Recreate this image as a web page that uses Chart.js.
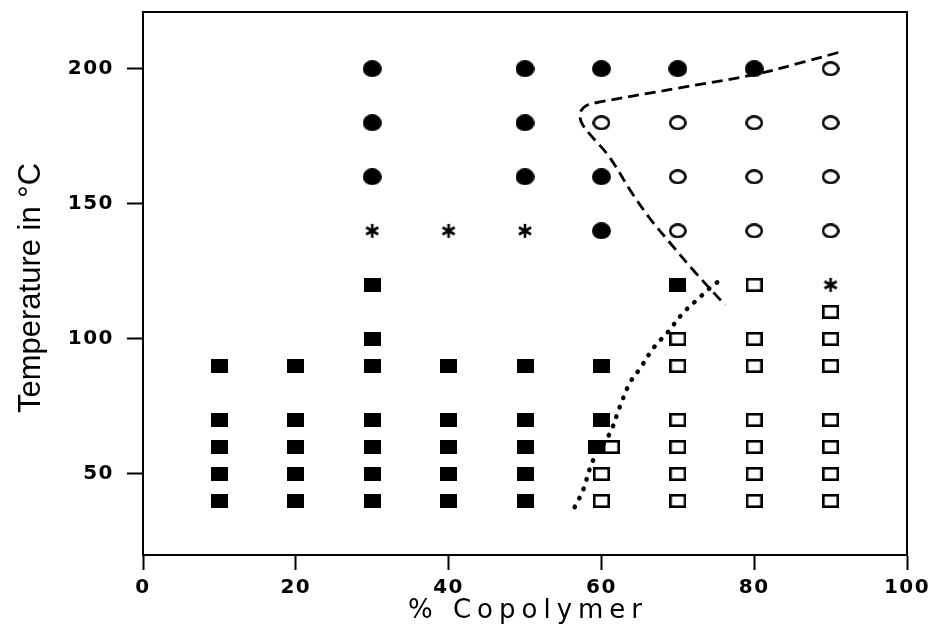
<!DOCTYPE html>
<html>
<head>
<meta charset="utf-8">
<script src="https://cdn.jsdelivr.net/npm/chart.js@4/dist/chart.umd.min.js"></script>
<style>
  html, body { margin: 0; padding: 0; background: #fff; }
  canvas { display: block; }
</style>
</head>
<body>
<canvas id="phaseChart" width="934" height="633"></canvas>
<script>
// axis ticks
const xTicks = [0, 20, 40, 60, 80, 100];
const yTicks = [50, 100, 150, 200];

// [% copolymer, temperature] for each kind of observation
const filledSquares = [
    [10, 40], [20, 40], [30, 40], [40, 40], [50, 40],
    [10, 50], [20, 50], [30, 50], [40, 50], [50, 50],
    [10, 60], [20, 60], [30, 60], [40, 60], [50, 60], [59.3, 60],
    [10, 70], [20, 70], [30, 70], [40, 70], [50, 70], [60, 70],
    [10, 90], [20, 90], [30, 90], [40, 90], [50, 90], [60, 90],
    [30, 100], [30, 120], [70, 120]
];
const openSquares = [
    [60, 40], [70, 40], [80, 40], [90, 40],
    [60, 50], [70, 50], [80, 50], [90, 50],
    [61.3, 60], [70, 60], [80, 60], [90, 60],
    [70, 70], [80, 70], [90, 70],
    [70, 90], [80, 90], [90, 90],
    [70, 100], [80, 100], [90, 100],
    [90, 110], [80, 120]
];
const filledCircles = [
    [30, 200], [50, 200], [60, 200], [70, 200], [80, 200],
    [30, 180], [50, 180],
    [30, 160], [50, 160], [60, 160],
    [60, 140]
];
const openCircles = [
    [90, 200],
    [60, 180], [70, 180], [80, 180], [90, 180],
    [70, 160], [80, 160], [90, 160],
    [70, 140], [80, 140], [90, 140]
];
const asterisks = [[30, 140], [40, 140], [50, 140], [90, 120]];

// boundary curves
const dashedBoundary = [
    [91, 206], [86.5, 202.5], [80, 197.8], [70, 192.8], [60, 187.8], [58, 186.3],
    [57.2, 183.5], [57.6, 179], [61, 167.5], [64, 154], [66.5, 144],
    [69, 135.5], [72, 125.5], [76.2, 112.5]
];
const dottedBoundary = [
    [56.5, 37.7], [57.6, 44], [58.9, 55], [61.1, 65], [62.4, 74.8],
    [63.7, 83.6], [65.1, 89.2], [66.8, 96.6], [68.6, 102.2], [70.7, 109.6],
    [72.5, 114.4], [74.2, 118.8], [75.9, 122.5]
];

const toPoints = arr => arr.map(p => ({ x: p[0], y: p[1] }));

// small canvases used as point glyphs
function makeMarker(w, h, draw) {
    const c = document.createElement('canvas');
    c.width = w;
    c.height = h;
    const g = c.getContext('2d');
    g.fillStyle = '#000';
    g.strokeStyle = '#000';
    draw(g, w, h);
    return c;
}

const solidSquare = makeMarker(17, 14, (g, w, h) => g.fillRect(0, 0, w, h));
const hollowSquare = makeMarker(17, 14, (g, w, h) => {
    g.lineWidth = 2.6;
    g.strokeRect(1.3, 1.3, w - 2.6, h - 2.6);
});
const solidCircle = makeMarker(19, 17, (g, w, h) => {
    g.beginPath();
    g.ellipse(w / 2, h / 2, w / 2, h / 2, 0, 0, Math.PI * 2);
    g.fill();
});
const hollowCircle = makeMarker(18, 15, (g, w, h) => {
    g.lineWidth = 2.6;
    g.beginPath();
    g.ellipse(w / 2, h / 2, w / 2 - 1.3, h / 2 - 1.3, 0, 0, Math.PI * 2);
    g.stroke();
});
const star = makeMarker(16, 16, (g, w, h) => {
    g.lineWidth = 2.6;
    g.beginPath();
    for (let i = 0; i < 3; i++) {
        const a = Math.PI / 2 + i * Math.PI / 3;
        const dx = Math.cos(a) * 7, dy = Math.sin(a) * 7;
        g.moveTo(w / 2 - dx, h / 2 - dy);
        g.lineTo(w / 2 + dx, h / 2 + dy);
    }
    g.stroke();
});

// frame around the plot and the two axis titles
const framePlugin = {
    id: 'frame',
    beforeDraw(chart) {
        chart.ctx.letterSpacing = '1.5px';
    },
    afterDraw(chart) {
        const ctx = chart.ctx;
        const a = chart.chartArea;
        ctx.save();
        ctx.letterSpacing = '0px';
        ctx.strokeStyle = '#000';
        ctx.lineWidth = 2;
        ctx.strokeRect(a.left, a.top, a.right - a.left, a.bottom - a.top);

        ctx.fillStyle = '#000';
        ctx.textAlign = 'center';
        ctx.textBaseline = 'alphabetic';

        ctx.font = '26px "DejaVu Sans"';
        ctx.letterSpacing = '6px';
        ctx.fillText('% Copolymer', (a.left + a.right) / 2 + 3, 618);

        ctx.letterSpacing = '0px';
        ctx.font = '31px "Liberation Sans"';
        ctx.translate(40, 288);
        ctx.rotate(-Math.PI / 2);
        ctx.fillText('Temperature in °C', 0, 0);
        ctx.restore();
        ctx.letterSpacing = '0px';
    }
};

const tickFont = { family: 'DejaVu Sans', size: 20, weight: 'bold' };

function markerSet(label, pts, glyph) {
    return {
        label: label,
        data: toPoints(pts),
        pointStyle: glyph,
        pointRadius: 8,
        pointHoverRadius: 8,
        showLine: false,
        order: 2
    };
}

const ctx = document.getElementById('phaseChart').getContext('2d');
new Chart(ctx, {
    type: 'scatter',
    data: {
        datasets: [
            {
                label: 'dashed',
                data: toPoints(dashedBoundary),
                showLine: true,
                borderColor: '#000',
                borderWidth: 2.8,
                borderDash: [11, 6],
                tension: 0.35,
                pointRadius: 0,
                fill: false,
                order: 1
            },
            {
                label: 'dotted',
                data: toPoints(dottedBoundary),
                showLine: true,
                borderColor: '#000',
                borderWidth: 4.5,
                borderDash: [0.5, 9.5],
                borderCapStyle: 'round',
                tension: 0.35,
                pointRadius: 0,
                fill: false,
                order: 1
            },
            markerSet('filled squares', filledSquares, solidSquare),
            markerSet('open squares', openSquares, hollowSquare),
            markerSet('filled circles', filledCircles, solidCircle),
            markerSet('open circles', openCircles, hollowCircle),
            markerSet('asterisks', asterisks, star)
        ]
    },
    options: {
        responsive: false,
        animation: false,
        layout: { padding: { top: 12, right: 27, left: 0, bottom: 0 } },
        plugins: {
            legend: { display: false },
            tooltip: { enabled: false }
        },
        scales: {
            x: {
                type: 'linear',
                min: 0,
                max: 100,
                afterBuildTicks: scale => { scale.ticks = xTicks.map(v => ({ value: v })); },
                afterFit: scale => {
                    scale.height = 78;
                    scale.paddingLeft = 0;
                    scale.paddingRight = 0;
                },
                ticks: {
                    font: tickFont,
                    color: '#000',
                    padding: 6,
                    maxRotation: 0,
                    autoSkip: false
                },
                grid: {
                    drawOnChartArea: false,
                    drawTicks: true,
                    tickLength: 15,
                    tickWidth: 2,
                    color: '#000'
                },
                border: { display: true, width: 2, color: '#000' }
            },
            y: {
                type: 'linear',
                min: 20,
                max: 221,
                afterBuildTicks: scale => { scale.ticks = yTicks.map(v => ({ value: v })); },
                afterFit: scale => {
                    scale.width = 143;
                    scale.paddingTop = 0;
                    scale.paddingBottom = 0;
                },
                ticks: {
                    font: tickFont,
                    color: '#000',
                    padding: 13,
                    autoSkip: false
                },
                grid: {
                    drawOnChartArea: false,
                    drawTicks: true,
                    tickLength: 16,
                    tickWidth: 2,
                    color: '#000'
                },
                border: { display: true, width: 2, color: '#000' }
            }
        }
    },
    plugins: [framePlugin]
});
</script>
</body>
</html>
